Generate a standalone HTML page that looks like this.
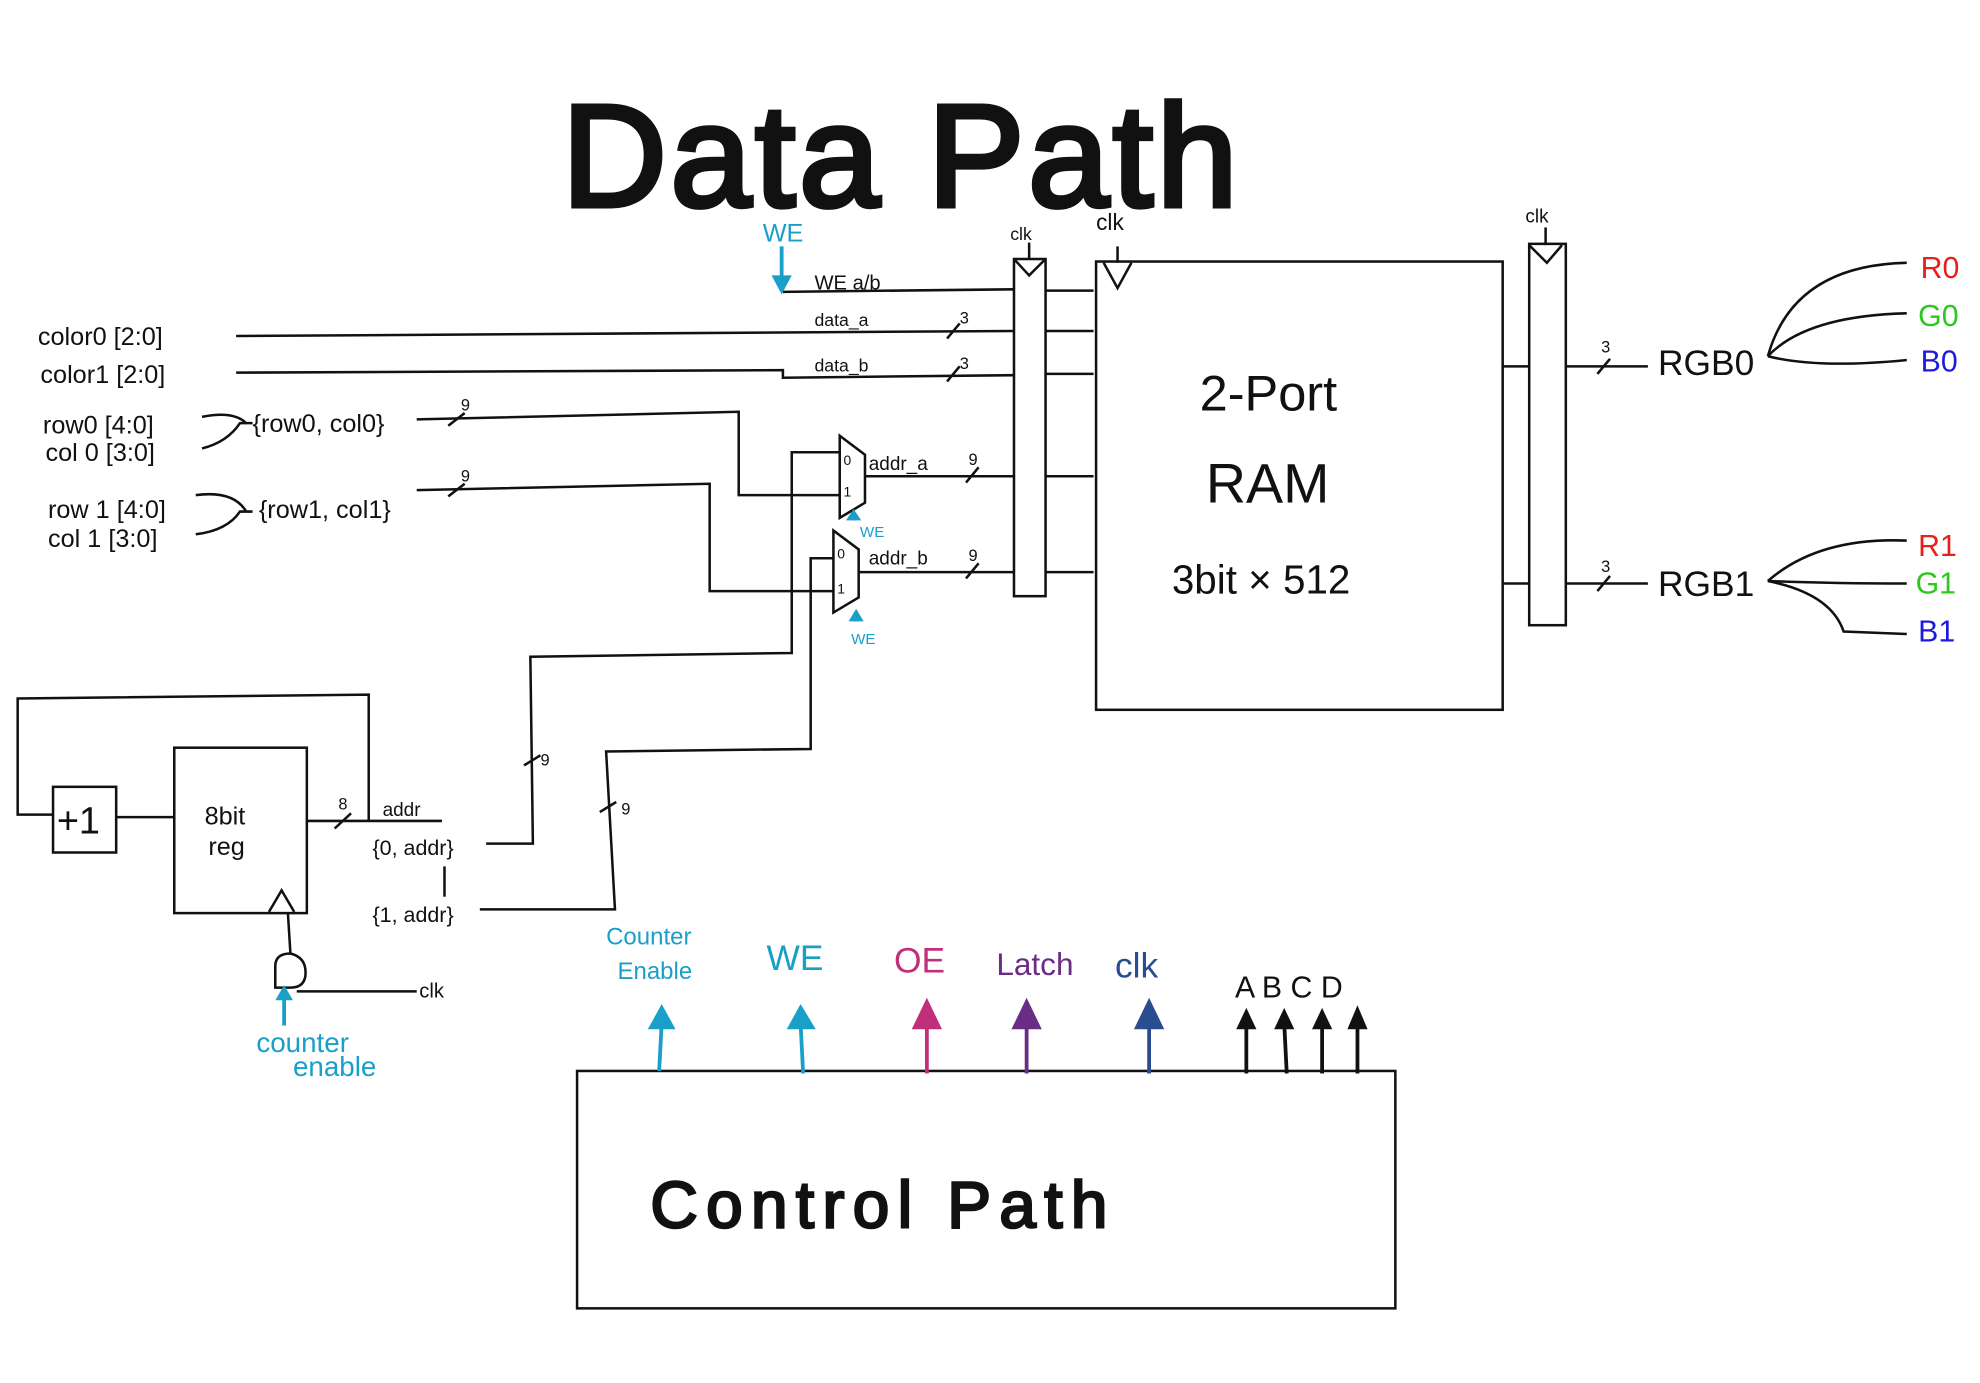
<!DOCTYPE html>
<html><head><meta charset="utf-8"><style>
html,body{margin:0;padding:0;background:#fff;}
svg{display:block;}
text{font-family:"Liberation Sans",sans-serif;}
</style></head><body>
<svg width="1980" height="1383" viewBox="0 0 1568 1095" xmlns="http://www.w3.org/2000/svg">
<g fill="none" stroke="#111" stroke-width="2">
<rect x="803" y="205" width="25" height="267"/>
<path d="M803,205 L815,218 L828,205"/>
<line x1="815" y1="192" x2="815" y2="205"/>
<rect x="868" y="207" width="322" height="355"/>
<path d="M874,208 L885,228 L896,208"/>
<line x1="885" y1="195" x2="885" y2="208"/>
<rect x="1211" y="193" width="29" height="302"/>
<path d="M1211,194 L1225,208 L1237,194"/>
<line x1="1224" y1="180" x2="1224" y2="194"/>
<line x1="620" y1="231" x2="803" y2="229"/>
<line x1="187" y1="266" x2="803" y2="262"/>
<path d="M187,295 L620,293 L620,299 L803,297"/>
<path d="M330,332 L585,326 L585,392 L665,392"/>
<path d="M330,388 L562,383 L562,468 L660,468"/>
<line x1="685" y1="377" x2="803" y2="377"/>
<line x1="680" y1="453" x2="803" y2="453"/>
<line x1="828" y1="230" x2="866" y2="230"/>
<line x1="828" y1="262" x2="866" y2="262"/>
<line x1="828" y1="296" x2="866" y2="296"/>
<line x1="828" y1="377" x2="866" y2="377"/>
<line x1="828" y1="453" x2="866" y2="453"/>
<path d="M665,345 L685,360 L685,398 L665,410 Z"/>
<path d="M660,420 L680,435 L680,473 L660,485 Z"/>
<path d="M385,668 L422,668 L420,520 L627,517 L627,358 L665,358"/>
<path d="M380,720 L487,720 L480,595 L642,593 L642,442 L660,442"/>
<rect x="138" y="592" width="105" height="131"/>
<rect x="42" y="623" width="50" height="52"/>
<line x1="92" y1="647" x2="138" y2="647"/>
<path d="M42,645 L14,645 L14,553 L292,550 L292,650"/>
<line x1="243" y1="650" x2="350" y2="650"/>
<line x1="352" y1="686" x2="352" y2="710"/>
<path d="M213,722 L223,705 L233,722"/>
<path d="M218,782 L218,765 Q218,755 230,755 Q242,758 242,770 Q242,782 230,782 Z"/>
<line x1="230" y1="755" x2="228" y2="723"/>
<line x1="235" y1="785" x2="330" y2="785"/>
<line x1="1190" y1="290" x2="1211" y2="290"/>
<line x1="1240" y1="290" x2="1305" y2="290"/>
<line x1="1190" y1="462" x2="1211" y2="462"/>
<line x1="1240" y1="462" x2="1305" y2="462"/>
<path d="M1400,282 Q1420,210 1510,208"/>
<path d="M1400,282 Q1430,250 1510,248"/>
<path d="M1400,282 Q1440,292 1510,285"/>
<path d="M1400,460 Q1440,425 1510,428"/>
<path d="M1400,460 Q1450,462 1510,462"/>
<path d="M1400,460 Q1450,470 1460,500 L1510,502"/>
<path d="M160,330 Q185,325 195,335 M160,355 Q180,350 190,335 L200,335"/>
<path d="M155,392 Q185,388 195,405 M155,423 Q180,420 190,405 L200,405"/>
<line x1="355" y1="337" x2="368" y2="327"/>
<line x1="355" y1="393" x2="368" y2="383"/>
<line x1="750" y1="268" x2="760" y2="256"/>
<line x1="750" y1="302" x2="760" y2="290"/>
<line x1="765" y1="382" x2="775" y2="370"/>
<line x1="765" y1="458" x2="775" y2="446"/>
<line x1="265" y1="656" x2="278" y2="644"/>
<line x1="415" y1="606" x2="428" y2="598"/>
<line x1="475" y1="643" x2="488" y2="635"/>
<line x1="1265" y1="296" x2="1275" y2="284"/>
<line x1="1265" y1="468" x2="1275" y2="456"/>
<rect x="457" y="848" width="648" height="188"/>
</g>
<g stroke-width="3" fill="none">
<line x1="522" y1="848" x2="524" y2="810" stroke="#1a9fc8"/>
<line x1="636" y1="850" x2="634" y2="810" stroke="#1a9fc8"/>
<line x1="734" y1="850" x2="734" y2="808" stroke="#c0307a"/>
<line x1="813" y1="850" x2="813" y2="808" stroke="#6a2d86"/>
<line x1="910" y1="850" x2="910" y2="808" stroke="#2a4d8f"/>
<line x1="987" y1="850" x2="987" y2="810" stroke="#111"/>
<line x1="1019" y1="850" x2="1017" y2="810" stroke="#111"/>
<line x1="1047" y1="850" x2="1047" y2="810" stroke="#111"/>
<line x1="1075" y1="850" x2="1075" y2="808" stroke="#111"/>
<line x1="619" y1="195" x2="619" y2="222" stroke="#1a9fc8"/>
<line x1="676" y1="412" x2="676" y2="405" stroke="#1a9fc8"/>
<line x1="678" y1="492" x2="678" y2="485" stroke="#1a9fc8"/>
<line x1="225" y1="812" x2="225" y2="790" stroke="#1a9fc8"/>
</g>
<g>
<path d="M513,815 L524,795 L535,815 Z" fill="#1a9fc8"/>
<path d="M623,815 L634,795 L646,815 Z" fill="#1a9fc8"/>
<path d="M722,815 L734,790 L746,815 Z" fill="#c0307a"/>
<path d="M801,815 L813,790 L825,815 Z" fill="#6a2d86"/>
<path d="M898,815 L910,790 L922,815 Z" fill="#2a4d8f"/>
<path d="M979,815 L987,798 L995,815 Z" fill="#111"/>
<path d="M1009,815 L1017,798 L1025,815 Z" fill="#111"/>
<path d="M1039,815 L1047,798 L1055,815 Z" fill="#111"/>
<path d="M1067,815 L1075,796 L1083,815 Z" fill="#111"/>
<path d="M611,218 L619,233 L627,218 Z" fill="#1a9fc8"/>
<path d="M670,412 L676,403 L682,412 Z" fill="#1a9fc8"/>
<path d="M672,492 L678,482 L684,492 Z" fill="#1a9fc8"/>
<path d="M218,792 L225,780 L232,792 Z" fill="#1a9fc8"/>
</g>
<text x="445" y="163" font-size="115" stroke="#111" stroke-width="4" fill="#111" textLength="535" lengthAdjust="spacing">Data  Path</text>
<g fill="#111" font-size="20">
<text x="30" y="273">color0 [2:0]</text>
<text x="32" y="303">color1 [2:0]</text>
<text x="34" y="343">row0 [4:0]</text>
<text x="36" y="365">col 0 [3:0]</text>
<text x="38" y="410">row 1 [4:0]</text>
<text x="38" y="433">col 1 [3:0]</text>
<text x="200" y="342">{row0, col0}</text>
<text x="205" y="410">{row1, col1}</text>
<text x="645" y="229" font-size="16">WE  a/b</text>
<text x="645" y="258" font-size="14">data_a</text>
<text x="645" y="294" font-size="14">data_b</text>
<text x="688" y="372" font-size="15">addr_a</text>
<text x="688" y="447" font-size="15">addr_b</text>
<text x="668" y="368" font-size="11">0</text>
<text x="668" y="393" font-size="11">1</text>
<text x="663" y="442" font-size="11">0</text>
<text x="663" y="470" font-size="11">1</text>
<g font-size="13">
<text x="365" y="325">9</text><text x="365" y="381">9</text>
<text x="760" y="256">3</text><text x="760" y="292">3</text>
<text x="767" y="368">9</text><text x="767" y="444">9</text>
<text x="268" y="641">8</text><text x="428" y="606">9</text><text x="492" y="645">9</text>
<text x="1268" y="279">3</text><text x="1268" y="453">3</text>
</g>
<text x="800" y="190" font-size="14">clk</text>
<text x="868" y="182" font-size="18">clk</text>
<text x="1208" y="176" font-size="15">clk</text>
<text x="950" y="325" font-size="40">2-Port</text>
<text x="955" y="398" font-size="44">RAM</text>
<text x="928" y="470" font-size="32">3bit × 512</text>
<text x="1313" y="297" font-size="28">RGB0</text>
<text x="1313" y="472" font-size="28">RGB1</text>
<text x="45" y="660" font-size="30">+1</text>
<text x="162" y="653" font-size="20">8bit</text>
<text x="165" y="677" font-size="20">reg</text>
<text x="303" y="646" font-size="15">addr</text>
<text x="295" y="677" font-size="17">{0, addr}</text>
<text x="295" y="730" font-size="17">{1, addr}</text>
<text x="332" y="790" font-size="16">clk</text>
<text x="978" y="790" font-size="24">A B C D</text>
<text x="515" y="972" font-size="52" stroke="#111" stroke-width="2" textLength="362" lengthAdjust="spacing">Control  Path</text>
</g>
<g font-size="24">
<text x="1521" y="220" fill="#e8201a">R0</text>
<text x="1519" y="258" fill="#2ec71e">G0</text>
<text x="1521" y="294" fill="#1c1ae0">B0</text>
<text x="1519" y="440" fill="#e8201a">R1</text>
<text x="1517" y="470" fill="#2ec71e">G1</text>
<text x="1519" y="508" fill="#1c1ae0">B1</text>
</g>
<g fill="#1a9fc8">
<text x="604" y="191" font-size="20">WE</text>
<text x="681" y="425" font-size="12">WE</text>
<text x="674" y="510" font-size="12">WE</text>
<text x="480" y="748" font-size="19">Counter</text>
<text x="489" y="775" font-size="19">Enable</text>
<text x="607" y="768" font-size="28">WE</text>
<text x="203" y="833" font-size="22">counter</text>
<text x="232" y="852" font-size="22">enable</text>
</g>
<text x="708" y="770" font-size="28" fill="#c0307a">OE</text>
<text x="789" y="772" font-size="25" fill="#6a2d86">Latch</text>
<text x="883" y="774" font-size="28" fill="#2a4d8f">clk</text>
</svg>
</body></html>
